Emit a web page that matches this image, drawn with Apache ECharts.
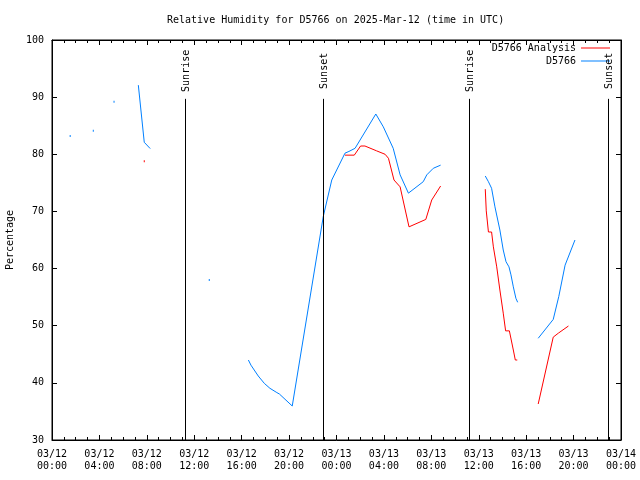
<!DOCTYPE html>
<html><head><meta charset="utf-8">
<script src="https://cdn.jsdelivr.net/npm/echarts@6/dist/echarts.min.js"></script>
<style>html,body{margin:0;padding:0;background:#fff}#c{width:640px;height:480px}</style>
</head><body><div id="c"></div>
<script>
const titleText = 'Relative Humidity for D5766 on 2025-Mar-12 (time in UTC)';
const yAxisName = 'Percentage';
const seriesNames = ['D5766 Analysis', 'D5766'];

// D5766 observations (null = gap)
const obsTimes = [
  '03/12 01:32', null, '03/12 03:29', null, '03/12 05:14', null,
  '03/12 07:17', '03/12 07:47', '03/12 08:17', null,
  '03/12 13:16', null,
  '03/12 16:34', '03/12 16:47', '03/12 17:24', '03/12 17:55', '03/12 18:23', '03/12 18:58', '03/12 19:11',
  '03/12 20:16', '03/12 22:53', '03/12 23:36', '03/13 00:43', '03/13 01:03', '03/13 01:34', '03/13 03:19',
  '03/13 03:57', '03/13 04:47', '03/13 05:22', '03/13 06:04', '03/13 07:19', '03/13 07:37', '03/13 08:10',
  '03/13 08:47', null,
  '03/13 12:33', '03/13 12:49', '03/13 13:05', '03/13 13:22', '03/13 13:47', '03/13 14:04', '03/13 14:18',
  '03/13 14:33', '03/13 14:43', '03/13 14:55', '03/13 15:08', '03/13 15:17', null,
  '03/13 17:01', '03/13 18:17', '03/13 18:45', '03/13 19:17', '03/13 20:07'
];
const obsValues = [
  83.2, null, 84.1, null, 89.2, null,
  92.1, 82.1, 81.0, null,
  58.0, null,
  44.0, 43.1, 41.2, 39.9, 39.05, 38.3, 38.05,
  35.95, 69.1, 75.5, 80.2, 80.5, 81.05, 87.05,
  84.8, 81.05, 76.4, 73.2, 75.2, 76.4, 77.55,
  78.1, null,
  76.2, 75.2, 74.05, 70.8, 66.75, 63.25, 61.2,
  60.3, 58.9, 56.8, 54.8, 54.1, null,
  47.8, 51.1, 55.1, 60.6, 65.0
];

// D5766 Analysis (null = gap)
const anaTimes = [
  '03/12 07:47', null,
  '03/13 00:43', '03/13 01:30', '03/13 02:02', '03/13 02:24', '03/13 03:23', '03/13 04:06', '03/13 04:23',
  '03/13 04:51', '03/13 05:22', '03/13 06:07', '03/13 07:32', '03/13 08:02', '03/13 08:47', null,
  '03/13 12:33', '03/13 12:38', '03/13 12:49', '03/13 13:05', '03/13 13:14', '03/13 13:31', '03/13 13:47',
  '03/13 14:04', '03/13 14:16', '03/13 14:35', '03/13 14:55', '03/13 15:05', '03/13 15:15', null,
  '03/13 17:01', '03/13 18:17', '03/13 18:43', '03/13 19:34'
];
const anaValues = [
  78.8, null,
  79.85, 79.85, 81.45, 81.45, 80.6, 80.0, 79.3,
  75.5, 74.3, 67.3, 68.6, 72.0, 74.45, null,
  73.9, 70.1, 66.4, 66.4, 63.8, 60.3, 56.25,
  52.2, 49.1, 49.1, 45.75, 44.0, 44.0, null,
  36.3, 48.0, 48.7, 49.95
];

const eventNames = ['Sunrise', 'Sunset', 'Sunrise', 'Sunset'];
const eventTimes = ['03/12 11:15', '03/12 22:53', '03/13 11:12', '03/13 22:56'];

const xStartLabel = '03/12 00:00';
const xEndLabel = '03/14 00:00';
const yMin = 30, yMax = 100, yStep = 10;
const xStepHours = 4;

function toH(s) {
  const day = parseInt(s.slice(3, 5), 10);
  const hh = parseInt(s.slice(6, 8), 10);
  const mm = parseInt(s.slice(9, 11), 10);
  return (day - 12) * 24 + hh + mm / 60;
}
function pad(n) { return (n < 10 ? '0' : '') + n; }
function build(times, vals) {
  return times.map((t, i) => {
    if (t === null || vals[i] === null) return ['-', '-'];
    const item = { value: [toH(t), vals[i]] };
    const prevNull = i === 0 || vals[i - 1] === null;
    const nextNull = i === vals.length - 1 || vals[i + 1] === null;
    if (prevNull && nextNull) { item.symbol = 'rect'; item.symbolSize = [1, 2]; }
    return item;
  });
}

const FONT = 'DejaVu Sans Mono';
const txt = { fontFamily: FONT, fontSize: 10, color: '#000' };
const xMin = toH(xStartLabel), xMax = toH(xEndLabel);

function xAxisDef(pos, showLabels) {
  return {
    type: 'value', position: pos, min: xMin, max: xMax, interval: xStepHours,
    axisLine: { show: true, onZero: false, lineStyle: { color: '#000', width: 1 } },
    axisTick: { show: true, inside: true, length: 5, lineStyle: { color: '#000' } },
    minorTick: { show: true, splitNumber: 4, length: 3, lineStyle: { color: '#000' } },
    splitLine: { show: false },
    axisLabel: {
      show: showLabels, ...txt, margin: 8, lineHeight: 12, showMinLabel: true, showMaxLabel: true,
      formatter: v => { const d = 12 + Math.floor(v / 24); const h = Math.round(v % 24); return '03/' + pad(d) + '\n' + pad(h) + ':00'; }
    }
  };
}
function yAxisDef(pos, showLabels) {
  return {
    type: 'value', position: pos, min: yMin, max: yMax, interval: yStep,
    name: showLabels ? yAxisName : '', nameLocation: 'middle', nameGap: 35, nameTextStyle: txt,
    axisLine: { show: true, onZero: false, lineStyle: { color: '#000', width: 1 } },
    axisTick: { show: true, inside: true, length: 5, lineStyle: { color: '#000' } },
    splitLine: { show: false },
    axisLabel: { show: showLabels, ...txt, margin: 8 }
  };
}

const legendBase = { orient: 'vertical', align: 'right', icon: 'rect', itemWidth: 29, itemHeight: 1, textStyle: txt, selectedMode: false, padding: 0 };

const chart = echarts.init(document.getElementById('c'), null, { renderer: 'canvas' });
chart.setOption({
  animation: false,
  backgroundColor: '#fff',
  title: { text: titleText, left: 162, top: 10, textStyle: { ...txt, fontWeight: 'normal' } },
  grid: { left: 52, right: 19, top: 40, bottom: 40, show: true, borderColor: '#000', borderWidth: 1, containLabel: false, outerBoundsMode: 'none' },
  legend: [
    { ...legendBase, data: [seriesNames[0]], right: 30, top: 43 },
    { ...legendBase, data: [seriesNames[1]], right: 30, top: 56 }
  ],
  xAxis: [xAxisDef('bottom', true), xAxisDef('top', false)],
  yAxis: [yAxisDef('left', true), yAxisDef('right', false)],
  series: [
    {
      name: seriesNames[0], type: 'line', data: build(anaTimes, anaValues), symbol: 'none', connectNulls: false,
      color: '#ff0000', lineStyle: { color: '#ff0000', width: 1 }, itemStyle: { color: '#ff0000' }, silent: true
    },
    {
      name: seriesNames[1], type: 'line', data: build(obsTimes, obsValues), symbol: 'none', connectNulls: false,
      color: '#0080ff', lineStyle: { color: '#0080ff', width: 1 }, itemStyle: { color: '#0080ff' }, silent: true
    },
    {
      name: 'events', type: 'line', data: [], silent: true,
      markLine: {
        silent: true, symbol: ['none', 'none'], animation: false,
        lineStyle: { color: '#000', width: 1, type: 'solid' }, label: { show: false },
        data: eventTimes.map(t => [{ coord: [toH(t), yMin] }, { coord: [toH(t), 89.7] }])
      },
      markPoint: {
        silent: true, symbol: 'rect', symbolSize: 0, animation: false,
        itemStyle: { color: 'transparent' },
        label: { show: true, position: 'inside', rotate: 90, ...txt, formatter: '{b}' },
        data: eventTimes.map((t, i) => ({ name: eventNames[i], coord: [toH(t) + 0.08, 94.6] }))
      }
    }
  ]
});
</script>
</body></html>
